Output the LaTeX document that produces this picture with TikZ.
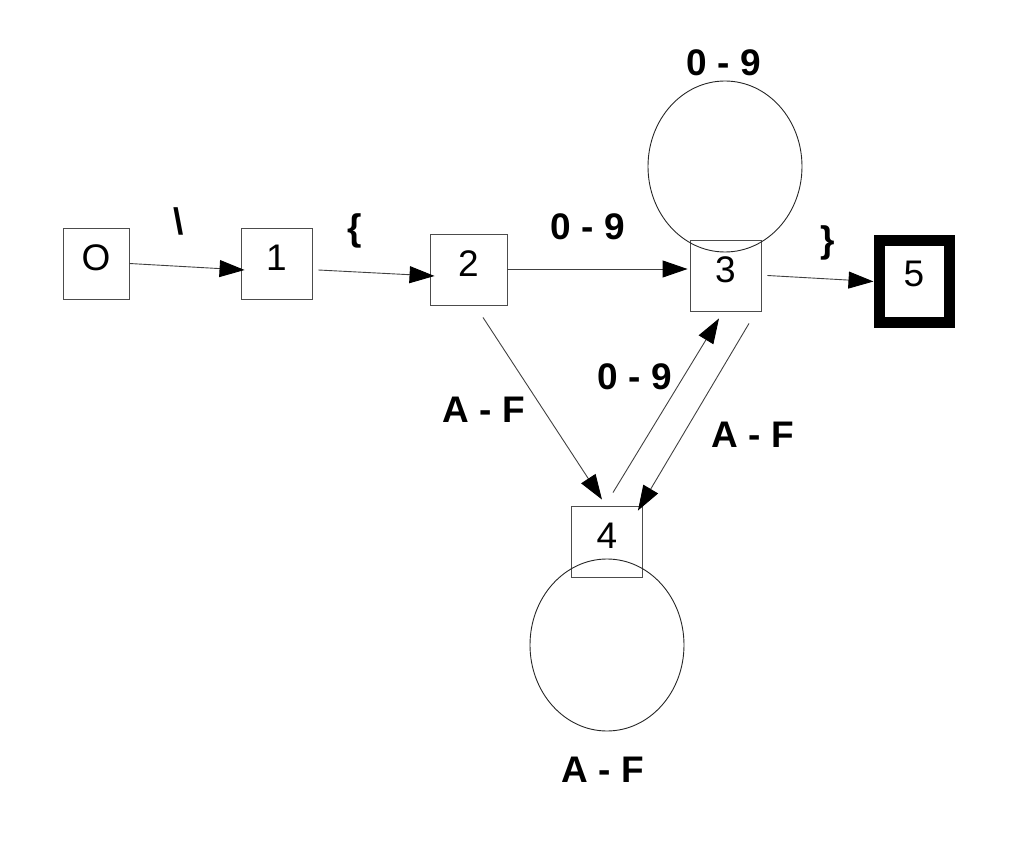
\documentclass[tikz,border=0pt]{standalone}
\usepackage{fontspec}
\setmainfont{Liberation Sans}
\usetikzlibrary{arrows.meta,shapes.geometric}
\tikzset{
  state/.style={draw=black!70, line width=0.9pt, minimum width=71pt, minimum height=71pt,
    inner sep=0pt, text depth=12pt, font=\fontsize{37}{42}\selectfont},
  final/.style={state, draw=black, line width=11pt, minimum width=70pt, minimum height=82pt, text depth=15pt},
  selfloop/.style={draw=black!85, line width=0.9pt, ellipse, inner sep=0pt, minimum width=154pt},
  trans/.style={draw=black!75, line width=0.9pt, -{Triangle[length=25pt,width=17pt,color=black]}},
  lbl/.style={inner sep=0pt, font=\bfseries\fontsize{37}{42}\selectfont}
}
\begin{document}
\begin{tikzpicture}[x=1pt,y=-1pt]
  \useasboundingbox (0,0) rectangle (1029,842);
  % states
  \node[state, minimum width=66pt] (s0) at (96,263.5) {O};
  \node[state] (s1) at (276.5,263.5) {1};
  \node[state, minimum width=77pt] (s2) at (468.5,269.5) {2};
  \node[state] (s3) at (725.5,275.5) {3};
  \node[state] (s4) at (607,541.5) {4};
  \node[final] (s5) at (914,281.5) {5};
  % self loops
  \node[selfloop, minimum height=171pt] (loop3) at (725,166.5) {};
  \node[selfloop, minimum height=172pt] (loop4) at (607,645) {};
  % transitions
  \draw[trans] (s0.east) -- ([xshift=4pt,yshift=-6.5pt]s1.west);
  \draw[trans] ([xshift=6pt,yshift=-6.5pt]s1.east) -- ([xshift=5pt,yshift=-6.5pt]s2.west);
  \draw[trans] ([yshift=0.5pt]s2.east) -- ([xshift=-2pt,yshift=6.5pt]s3.west);
  \draw[trans] ([xshift=6pt]s3.east) -- (s5.west);
  \draw[trans] ([xshift=14.5pt,yshift=-12pt]s2.south) -- ([xshift=-5pt,yshift=6pt]s4.north);
  \draw[trans] ([xshift=6pt,yshift=13pt]s4.north) -- ([xshift=-6.5pt,yshift=-7pt]s3.south);
  \draw[trans] ([xshift=23.5pt,yshift=-12pt]s3.south) -- ([xshift=-5pt,yshift=-5pt]s4.north east);
  % labels
  \node[lbl] (l01) at (179,221) {\textbackslash};
  \node[lbl] (l12) at (355,231) {\{};
  \node[lbl] (l23) at (588,227) {0 - 9};
  \node[lbl] (l33) at (724,63) {0 - 9};
  \node[lbl] (l35) at (828,243) {\}};
  \node[lbl] (l24) at (484,410) {A - F};
  \node[lbl] (l43) at (635,377) {0 - 9};
  \node[lbl] (l34) at (753,435) {A - F};
  \node[lbl] (l44) at (603,770) {A - F};
\end{tikzpicture}
\end{document}
